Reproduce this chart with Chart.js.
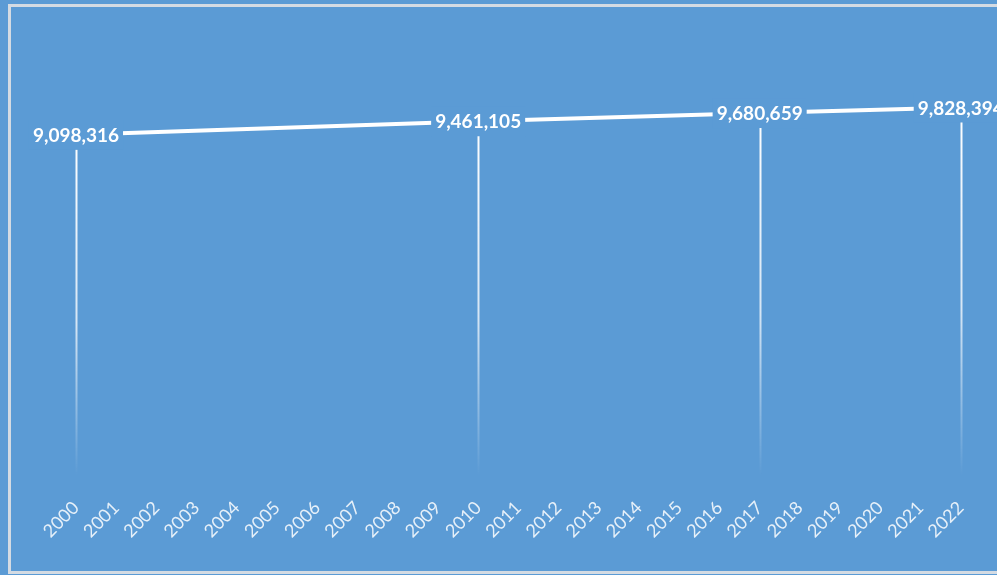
<!DOCTYPE html>
<html>
<head>
<meta charset="utf-8">
<script src="https://cdn.jsdelivr.net/npm/chart.js@4.4.0/dist/chart.umd.min.js"></script>
<style>
    html, body { margin: 0; padding: 0; background: #5b9bd5; }
    #wrap { width: 997px; height: 575px; position: relative; }
</style>
</head>
<body>
<div id="wrap"><canvas id="popChart"></canvas></div>
<script>
// Year categories along the bottom axis
const years = ['2000', '2001', '2002', '2003', '2004', '2005', '2006', '2007', '2008', '2009', '2010',
    '2011', '2012', '2013', '2014', '2015', '2016', '2017', '2018', '2019', '2020', '2021', '2022'];

// Years that actually have a population figure
const pointYears = ['2000', '2010', '2017', '2022'];
const pointValues = [9098316, 9461105, 9680659, 9828394];

const bgBlue = '#5b9bd5';

// one entry per category, gaps where no figure exists
const seriesData = years.map(y => {
    const i = pointYears.indexOf(y);
    return i === -1 ? null : pointValues[i];
});

const fmt = new Intl.NumberFormat('en-US');

// light frame round the whole chart
const framePlugin = {
    id: 'frame',
    afterDraw(chart) {
        const ctx = chart.ctx;
        ctx.save();
        ctx.strokeStyle = '#d4dbe3';
        ctx.lineWidth = 3;
        ctx.strokeRect(9.5, 5.5, 1000, 567);
        ctx.restore();
    }
};

// fading vertical lines from each point down to the axis
const dropLinesPlugin = {
    id: 'dropLines',
    beforeDatasetsDraw(chart) {
        const ctx = chart.ctx;
        const x = chart.scales.x;
        const y = chart.scales.y;
        const bottom = chart.chartArea.bottom;
        ctx.save();
        pointYears.forEach((yr, i) => {
            const px = Math.round(x.getPixelForValue(years.indexOf(yr))) + 0.5;
            const py = y.getPixelForValue(pointValues[i]);
            const grad = ctx.createLinearGradient(0, py, 0, bottom);
            grad.addColorStop(0, 'rgba(255,255,255,1)');
            grad.addColorStop(0.55, 'rgba(255,255,255,0.75)');
            grad.addColorStop(1, 'rgba(255,255,255,0)');
            ctx.strokeStyle = grad;
            ctx.lineWidth = 2;
            ctx.beginPath();
            ctx.moveTo(px, py);
            ctx.lineTo(px, bottom);
            ctx.stroke();
        });
        ctx.restore();
    }
};

// value labels sitting on the line, with the line cut away behind them
const valueLabelsPlugin = {
    id: 'valueLabels',
    afterDatasetsDraw(chart) {
        const ctx = chart.ctx;
        const x = chart.scales.x;
        const y = chart.scales.y;
        ctx.save();
        ctx.font = 'bold 19px Lato';
        ctx.textAlign = 'center';
        ctx.textBaseline = 'middle';
        pointYears.forEach((yr, i) => {
            const px = x.getPixelForValue(years.indexOf(yr));
            const py = y.getPixelForValue(pointValues[i]);
            const text = fmt.format(pointValues[i]);
            const w = ctx.measureText(text).width;
            ctx.fillStyle = bgBlue;
            ctx.fillRect(px - w / 2 - 4, py - 15, w + 8, 30);
            ctx.fillStyle = '#ffffff';
            ctx.fillText(text, px, py + 1);
        });
        ctx.restore();
    }
};

const ctx = document.getElementById('popChart').getContext('2d');
new Chart(ctx, {
    type: 'line',
    data: {
        labels: years,
        datasets: [{
            data: seriesData,
            borderColor: '#ffffff',
            borderWidth: 4,
            pointRadius: 0,
            spanGaps: true,
            tension: 0
        }]
    },
    options: {
        responsive: true,
        maintainAspectRatio: false,
        animation: false,
        layout: {
            padding: { left: 76, right: 31, top: 26, bottom: 12 }
        },
        plugins: {
            legend: { display: false },
            tooltip: { enabled: false }
        },
        scales: {
            x: {
                offset: false,
                border: { display: false },
                grid: { display: false, drawTicks: false },
                ticks: {
                    color: 'rgba(255,255,255,0.85)',
                    font: { family: 'Lato', size: 18 },
                    minRotation: 45,
                    maxRotation: 45,
                    padding: 21,
                    autoSkip: false
                }
            },
            y: {
                display: false,
                min: 0,
                max: 12000000
            }
        }
    },
    plugins: [framePlugin, dropLinesPlugin, valueLabelsPlugin]
});
</script>
</body>
</html>
